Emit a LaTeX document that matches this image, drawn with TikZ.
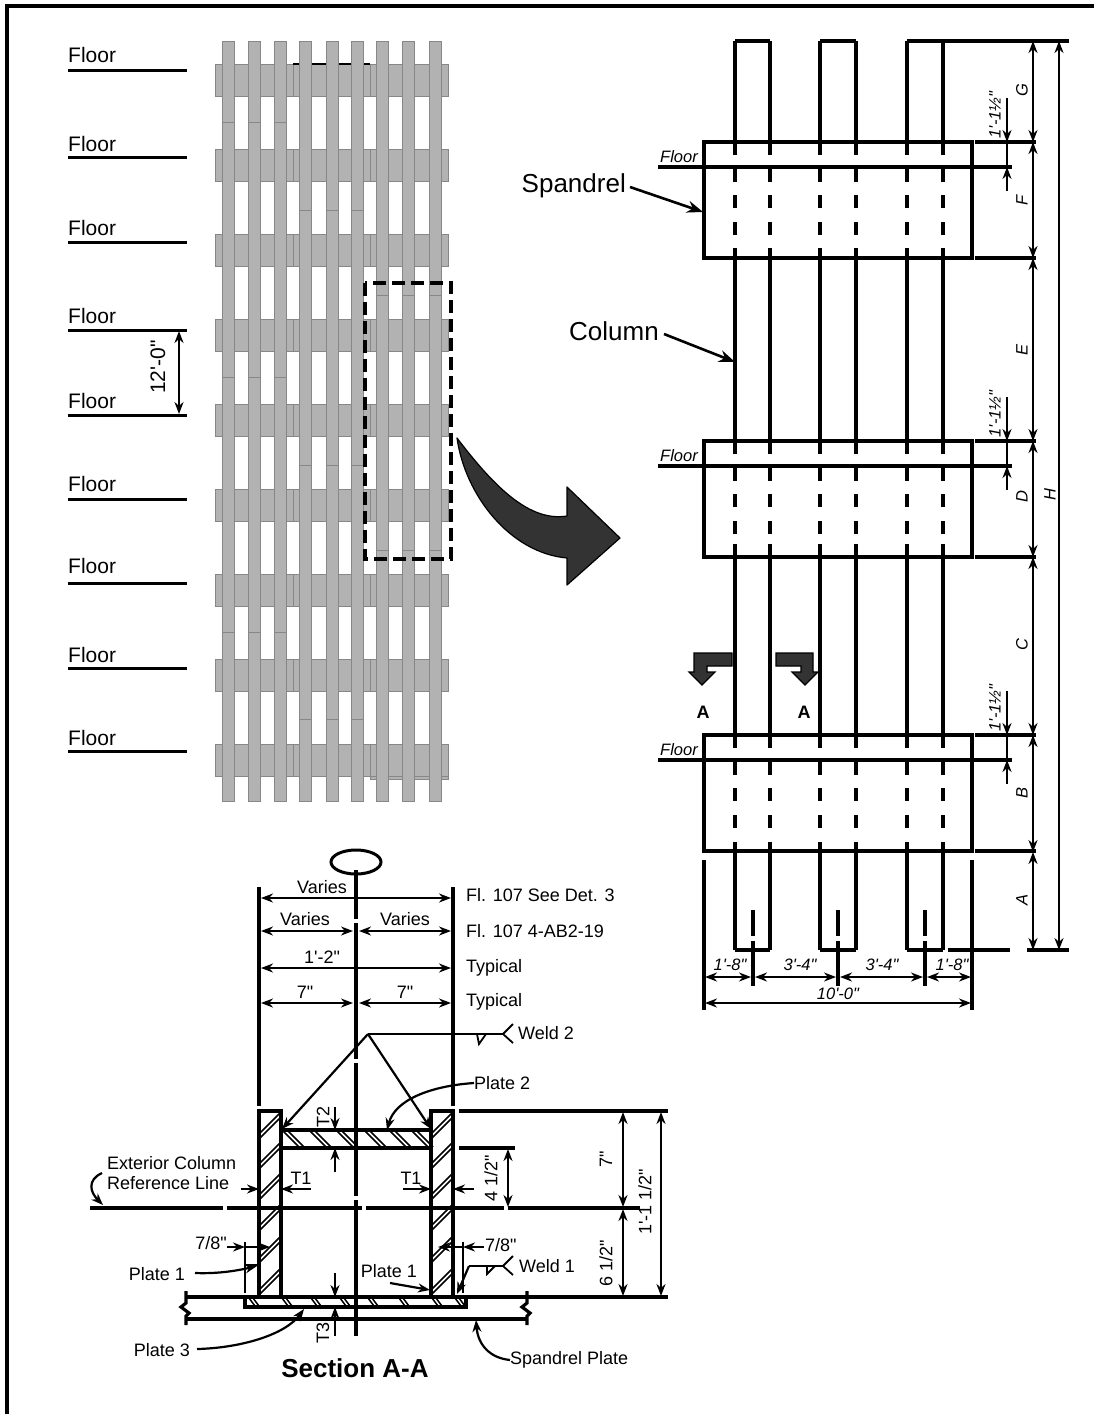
\documentclass[tikz,border=0pt]{standalone}
\usepackage{fontspec}
\newfontfamily\DRfont{Liberation Sans}
\usetikzlibrary{arrows.meta}
\definecolor{GRF}{RGB}{178,178,178}
\definecolor{GRD}{RGB}{135,135,135}
\tikzset{
    TX/.style ={inner sep=0pt,font=\DRfont\fontsize{18}{20}\selectfont},
    FT/.style ={inner sep=0pt,font=\DRfont\fontsize{21}{24}\selectfont},
    LB/.style ={inner sep=0pt,font=\DRfont\fontsize{26}{28}\selectfont},
    IT/.style ={inner sep=0pt,font=\DRfont\itshape\fontsize{16.5}{18}\selectfont},
    BT/.style ={inner sep=0pt,font=\DRfont\bfseries\fontsize{18}{20}\selectfont},
    GR/.style ={fill=GRF,draw=GRD,line width=0.9pt},
    CL/.style ={line width=3.2pt},
    TH/.style ={line width=1.4pt},
    HT/.style ={line width=1.5pt},
    DK/.style ={fill=black!80,draw=black,line width=1.2pt},
    DM/.style ={<->,>={Stealth[length=12pt,width=9pt]},line width=2.2pt},
    AR/.style ={->,>={Stealth[length=12pt,width=9pt]},line width=2.2pt},
    AL/.style ={->,>={Stealth[length=16pt,width=12pt]},line width=2.6pt}}

\begin{document}
\begin{tikzpicture}[x=1pt,y=-1pt]
        \useasboundingbox (0,0) rectangle (1094,1414);
        \draw[line width=3.4pt] (7,1414) -- (7,6) -- (1094,6);
        \foreach \i/\y/\b in {1/70/62,2/157/151,3/242/235,4/330/323,5/415/408,6/499/491,7/583/573,8/668/662,9/751/745}{
            \draw[line width=3pt] (68,\y) -- (187,\y);
            \node[FT,anchor=base west] (FL\i) at (68,\b) {Floor};
        }
        \foreach \y in {64,149,234,319,404,489,574,659,744}{
            \draw[GR] (215,\y) rectangle (293,\y+32);
            \draw[GR] (293,\y) rectangle (370,\y+32);
            \draw[GR] (370,\y) rectangle (448,\y+32);
        }
        \draw[GR] (370,776) rectangle (448,779);
        \draw[line width=1.1pt] (293,64) -- (370,64);
        \foreach \x in {228,254,280,305,332,357,382,408,435}{
            \draw[GR] (\x-6,41) rectangle (\x+6,801);
        }
        \foreach \x in {228,254,280}{
            \foreach \y in {122,377,632} \draw[GR] (\x-6,\y) -- (\x+6,\y);
        }
        \foreach \x in {305,332,357}{
            \foreach \y in {210,465,719} \draw[GR] (\x-6,\y) -- (\x+6,\y);
        }
        \foreach \x in {382,408,435}{
            \foreach \y in {295,550} \draw[GR] (\x-6,\y) -- (\x+6,\y);
        }
        \draw[line width=3.2pt,dash pattern=on 13pt off 6pt] (365,283) rectangle (451,559);
        \draw[DM] (179,331) -- (179,414);
        \node[FT,rotate=90] (DIM12) at (158,367) {12'-0"};
        \draw[DK,line join=round] (457,438) .. controls (495,488) and (530,522) .. (567,516)
            -- (567,487) -- (620,538) -- (567,585) -- (567,558)
            .. controls (510,553) and (465,495) .. (457,438) -- cycle;
        \foreach \x in {735,770,820,856,907,943}{
            \draw[CL] (\x,41) -- (\x,155);
            \draw[CL] (\x,248) -- (\x,454);
            \draw[CL] (\x,544) -- (\x,748);
            \draw[CL] (\x,842) -- (\x,950);
            \foreach \t in {142,441,735}{
                \draw[CL] (\x,\t+26) -- (\x,\t+40);
                \draw[CL] (\x,\t+53) -- (\x,\t+66);
                \draw[CL] (\x,\t+80) -- (\x,\t+93);
            }
        }
        \draw[CL] (735,41) -- (770,41);
        \draw[CL] (820,41) -- (856,41);
        \draw[CL] (907,41) -- (1069,41);
        \draw[CL] (735,950) -- (770,950);
        \draw[CL] (820,950) -- (856,950);
        \draw[CL] (907,950) -- (943,950);
        \draw[CL] (948,950) -- (1010,950);
        \draw[CL] (1027,950) -- (1069,950);
        \foreach \i/\t in {1/142,2/441,3/735}{
            \draw[CL] (704,\t) rectangle (972,\t+116);
            \draw[CL] (658,\t+25) -- (1012,\t+25);
            \node[IT,anchor=base west] (FR\i) at (660,\t+20) {Floor};
            \draw[CL] (975,\t) -- (1036,\t);
            \draw[CL] (975,\t+116) -- (1036,\t+116);
            \draw[AR] (1007,\t-44) -- (1007,\t);
            \draw[AR] (1007,\t+49) -- (1007,\t+25);
            \draw[TH] (1007,\t) -- (1007,\t+25);
            \node[IT,rotate=90] (DT\i) at (995,\t-27) {1'-1½"};
        }
        \foreach \a/\b in {41/142,142/258,258/441,441/557,557/735,735/852,852/950}{
            \draw[DM,line width=2.6pt] (1033,\a) -- (1033,\b);
        }
        \draw[DM] (1059,41) -- (1059,950);
        \node[IT,rotate=90] (DG) at (1022,90) {G};
        \node[IT,rotate=90] (DF) at (1022,200) {F};
        \node[IT,rotate=90] (DE) at (1022,350) {E};
        \node[IT,rotate=90] (DD) at (1022,497) {D};
        \node[IT,rotate=90] (DC) at (1022,645) {C};
        \node[IT,rotate=90] (DB) at (1022,793) {B};
        \node[IT,rotate=90] (DA) at (1022,900) {A};
        \node[IT,rotate=90] (DH) at (1050,495) {H};
        \draw[CL] (704,860) -- (704,1010);
        \draw[CL] (972,860) -- (972,1010);
        \foreach \x in {753,838,925}{
            \draw[CL] (\x,910) -- (\x,936);
            \draw[CL] (\x,941) -- (\x,986);
        }
        \draw[DM] (705,977) -- (751,977);
        \draw[DM] (755,977) -- (836,977);
        \draw[DM] (840,977) -- (923,977);
        \draw[DM] (927,977) -- (971,977);
        \draw[DM] (705,1003) -- (971,1003);
        \node[IT] (W1) at (730,965) {1'-8"};
        \node[IT] (W2) at (800,965) {3'-4"};
        \node[IT] (W3) at (882,965) {3'-4"};
        \node[IT] (W4) at (952,965) {1'-8"};
        \node[IT] (W5) at (838,994) {10'-0"};
        \node[LB,anchor=east] (SP) at (626,186) {Spandrel};
        \node[LB,anchor=east] (CO) at (659,331) {Column};
        \draw[AL] (SP.east) ++(4,1) -- (703,212);
        \draw[AL] (CO.east) ++(5,3) -- (735,362);
        \draw[DK] (732,653) -- (694,653) -- (694,672) -- (689,672) -- (702,685) -- (715,672)
            -- (707,672) -- (707,666) -- (732,666) -- cycle;
        \draw[DK] (776,653) -- (813,653) -- (813,672) -- (818,672) -- (805,685) -- (792,672)
            -- (801,672) -- (801,666) -- (776,666) -- cycle;
        \node[BT] (SA1) at (703,712) {A};
        \node[BT] (SA2) at (804,712) {A};
        \draw[line width=3pt] (356,862) ellipse [x radius=25,y radius=12];
        \draw[CL] (356,870) -- (356,919);
        \draw[CL] (356,923) -- (356,1059);
        \draw[CL] (356,1063) -- (356,1196);
        \draw[CL] (356,1200) -- (356,1336);
        \draw[CL] (259,887) -- (259,1106);
        \draw[CL] (453,887) -- (453,1106);
        \draw[DM] (261,898) -- (451,898);
        \draw[DM] (261,931) -- (353,931);
        \draw[DM] (359,931) -- (451,931);
        \draw[DM] (261,968) -- (451,968);
        \draw[DM] (261,1003) -- (353,1003);
        \draw[DM] (359,1003) -- (451,1003);
        \node[TX] (V1) at (322,887) {Varies};
        \node[TX] (V2) at (305,919) {Varies};
        \node[TX] (V3) at (405,919) {Varies};
        \node[TX] (V4) at (322,957) {1'-2"};
        \node[TX] (V5) at (305,992) {7"};
        \node[TX] (V6) at (405,992) {7"};
        \node[TX,anchor=west] (N1) at (466,895) {Fl. 107 See Det. 3};
        \node[TX,anchor=west] (N2) at (466,931) {Fl. 107 4-AB2-19};
        \node[TX,anchor=west] (N3) at (466,968) {Typical};
        \node[TX,anchor=west] (N4) at (466,1002) {Typical};
        \node[TX,anchor=west] (WE2) at (518,1033) {Weld 2};
        \draw[line width=1.8pt] (513,1024) -- (503,1034) -- (513,1043);
        \draw[line width=1.8pt] (503,1034) -- (368,1034);
        \draw[line width=1.8pt] (477,1034) -- (479,1044) -- (486,1034);
        \draw[AR] (368,1034) -- (282,1129);
        \draw[AR] (368,1034) -- (431,1129);
        \node[TX,anchor=west] (PL2) at (474,1083) {Plate 2};
        \draw[AR] (PL2.west) .. controls (430,1086) and (395,1100) .. (387,1130);
        \draw[CL] (259,1297) -- (259,1111) -- (281,1111) -- (281,1297);
        \draw[CL] (431,1297) -- (431,1111) -- (453,1111) -- (453,1297);
        \draw[CL] (281,1130) -- (431,1130);
        \draw[CL] (281,1148) -- (431,1148);
        \draw[CL] (245,1297) -- (245,1307) -- (466,1307) -- (466,1297);
        \draw[CL] (186,1297) -- (668,1297);
        \draw[CL] (186,1319) -- (527,1319);
        \foreach \x in {186,527}{
            \draw[CL] (\x,1291) -- (\x,1303) -- (\x-5,1307) -- (\x+3,1313) -- (\x,1316) -- (\x,1325);
        }
        \foreach \y in {1138,1168,1199,1230,1262,1294}{
            \draw[HT] (260,\y) -- (280,\y-20);
            \draw[HT] (260,\y-5) -- (280,\y-25);
            \draw[HT] (432,\y) -- (452,\y-20);
            \draw[HT] (432,\y-5) -- (452,\y-25);
        }
        \foreach \x in {283,310,337,365,390,412}{
            \draw[HT] (\x,1131) -- (\x+16,1147);
            \draw[HT] (\x+5,1131) -- (\x+21,1147);
        }
        \foreach \x in {249,282,311,340,368,399,432,455}{
            \draw[HT] (\x,1298) -- (\x+6,1306);
            \draw[HT] (\x+4,1298) -- (\x+10,1306);
        }
        \draw[CL] (90,1208) -- (223,1208);
        \draw[CL] (227,1208) -- (362,1208);
        \draw[CL] (366,1208) -- (504,1208);
        \draw[CL] (508,1208) -- (640,1208);
        \draw[CL] (459,1111) -- (668,1111);
        \draw[CL] (459,1148) -- (515,1148);
        \draw[DM] (623,1112) -- (623,1207);
        \draw[DM] (623,1209) -- (623,1296);
        \draw[DM] (661,1112) -- (661,1296);
        \draw[DM] (508,1149) -- (508,1207);
        \node[TX,rotate=90] (S1) at (491,1178) {4 1/2"};
        \node[TX,rotate=90] (S2) at (606,1159) {7"};
        \node[TX,rotate=90] (S3) at (645,1202) {1'-1 1/2"};
        \node[TX,rotate=90] (S4) at (606,1263) {6 1/2"};
        \draw[AR] (335,1107) -- (335,1130);
        \draw[AR] (335,1172) -- (335,1148);
        \draw[AR] (335,1273) -- (335,1297);
        \draw[AR] (335,1336) -- (335,1307);
        \node[TX,rotate=90] (T2) at (323,1117) {T2};
        \node[TX,rotate=90] (T3) at (323,1333) {T3};
        \node[TX] (T1L) at (301,1178) {T1};
        \node[TX] (T1R) at (411,1178) {T1};
        \draw[AR] (241,1189) -- (259,1189);
        \draw[AR] (311,1189) -- (281,1189);
        \draw[AR] (403,1189) -- (431,1189);
        \draw[AR] (474,1189) -- (453,1189);
        \node[TX,anchor=east] (E1) at (227,1243) {7/8"};
        \node[TX,anchor=west] (E2) at (485,1245) {7/8"};
        \draw[line width=2.6pt] (245,1242) -- (245,1293);
        \draw[line width=2.6pt] (463,1242) -- (463,1293);
        \draw[line width=1.8pt] (245,1265) -- (258,1265);
        \draw[AR] (227,1247) -- (245,1247);
        \draw[AR] (245,1247) -- (270,1247);
        \draw[AR] (484,1247) -- (463,1247);
        \draw[AR] (463,1247) -- (438,1247);
        \node[TX,anchor=east] (PL1) at (185,1274) {Plate 1};
        \draw[AR] (PL1.east) ++(10,-1) .. controls (220,1274) and (240,1270) .. (257,1266);
        \node[TX] (PL4) at (389,1271) {Plate 1};
        \draw[AR] (390,1283) -- (430,1290);
        \node[TX,anchor=west] (WE1) at (519,1266) {Weld 1};
        \draw[line width=1.8pt] (513,1256) -- (503,1266) -- (513,1275);
        \draw[line width=1.8pt] (503,1266) -- (469,1266);
        \draw[line width=1.8pt] (487,1266) -- (487,1274) -- (495,1266);
        \draw[AR] (469,1266) -- (457,1294);
        \node[TX,anchor=west,align=left] (EX) at (107,1173) {Exterior Column\\Reference Line};
        \draw[AR] (102,1173) .. controls (87,1180) and (90,1192) .. (103,1205);
        \node[TX,anchor=east] (PL3) at (190,1350) {Plate 3};
        \draw[AR] (PL3.east) ++(7,-1) .. controls (240,1348) and (285,1335) .. (304,1309);
        \node[TX,anchor=west] (SPP) at (510,1360) {Spandrel Plate};
        \draw[AR] (SPP.west) .. controls (490,1358) and (478,1345) .. (476,1320);
        \node[inner sep=0pt,font=\DRfont\bfseries\fontsize{26}{28}\selectfont] (SEC) at (355,1368) {Section A-A};
    \end{tikzpicture}
\end{document}
